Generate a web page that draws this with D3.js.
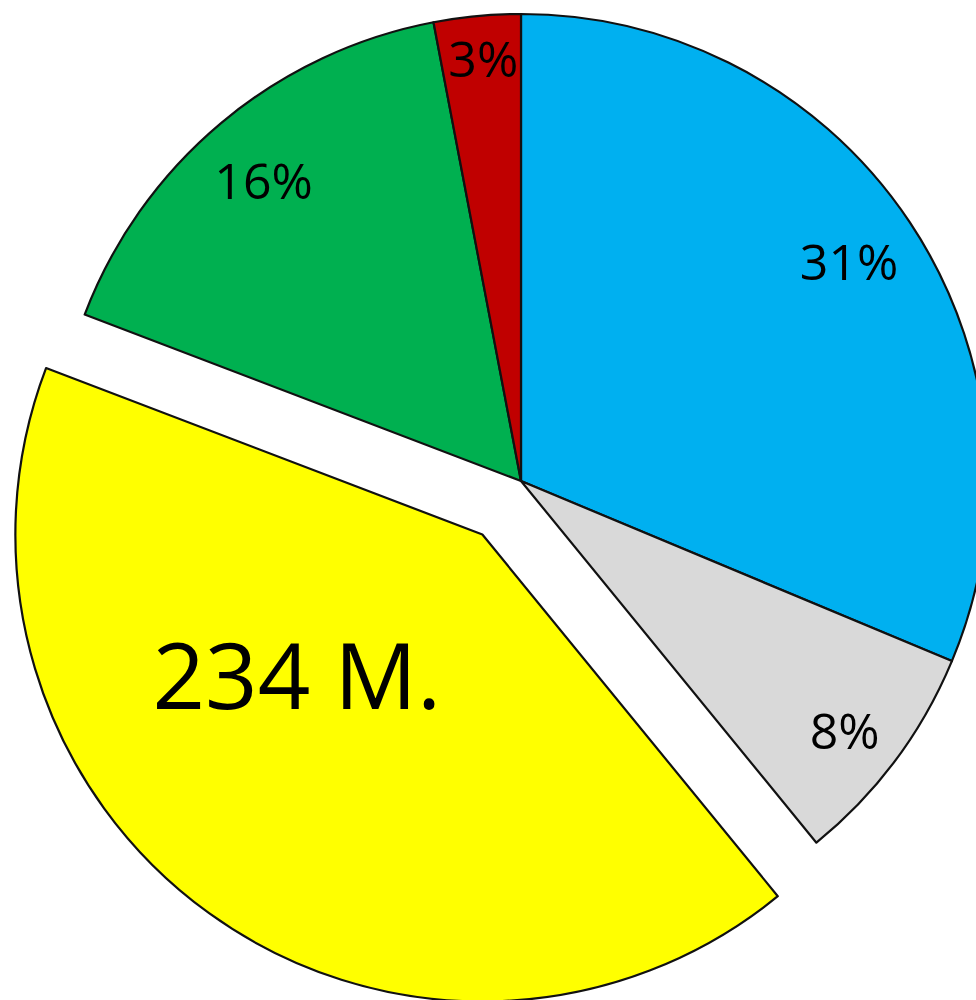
<!DOCTYPE html>
<html>
<head>
<meta charset="utf-8">
<script src="https://cdn.jsdelivr.net/npm/d3@7/dist/d3.min.js"></script>
<style>
  html, body { margin: 0; padding: 0; background: #ffffff; overflow: hidden; }
  svg { display: block; }
</style>
</head>
<body>
<svg id="chart" width="976" height="1000"></svg>
<script>
// ---- data ----
const categories = ["Segment A", "Segment B", "Segment C", "Segment D", "Segment E"];
const values = [31.3, 7.8, 41.7, 16.2, 3.0];
const labels = ["31%", "8%", "234 M.", "16%", "3%"];
const colors = ["#00B0F0", "#D9D9D9", "#FFFF00", "#00B050", "#C00000"];
const exploded = [false, false, true, false, false];

// ---- layout ----
const W = 976, H = 1000;
const cx = 521, cy = 481, R = 467;
const explodeDist = 66;
const labelLayout = [
  { r: 0.844, da: 0,    size: 50 },
  { r: 0.876, da: 1,    size: 50 },
  { r: 0.50,  da: 16.8, size: 92 },
  { r: 0.846, da: -0.7, size: 50 },
  { r: 0.908, da: 0.3,  size: 50 }
];

const data = categories.map((c, i) => ({ name: c, value: values[i], label: labels[i], color: colors[i], explode: exploded[i], i }));

const pie = d3.pie().sort(null).value(d => d.value).startAngle(0).endAngle(2 * Math.PI);
const arcs = pie(data);
const arc = d3.arc().innerRadius(0).outerRadius(R);

const svg = d3.select("#chart");
const g = svg.append("g").attr("transform", `translate(${cx},${cy})`);

function offset(d) {
  if (!d.data.explode) return [0, 0];
  const m = (d.startAngle + d.endAngle) / 2;
  return [Math.sin(m) * explodeDist, -Math.cos(m) * explodeDist];
}

const slices = g.selectAll("g.slice").data(arcs).enter().append("g")
  .attr("class", "slice")
  .attr("transform", d => { const o = offset(d); return `translate(${o[0]},${o[1]})`; });

slices.append("path")
  .attr("d", arc)
  .attr("fill", d => d.data.color)
  .attr("stroke", "#111")
  .attr("stroke-width", 2.2)
  .attr("stroke-linejoin", "round");

slices.append("text")
  .attr("transform", d => {
    const L = labelLayout[d.data.i];
    const m = (d.startAngle + d.endAngle) / 2 + L.da * Math.PI / 180;
    const r = L.r * R;
    return `translate(${Math.sin(m) * r},${-Math.cos(m) * r})`;
  })
  .attr("text-anchor", "middle")
  .attr("dy", "0.357em")
  .attr("font-family", "'Open Sans', 'Noto Sans', sans-serif")
  .attr("font-size", d => labelLayout[d.data.i].size)
  .attr("fill", "#000")
  .text(d => d.data.label);
</script>
</body>
</html>
